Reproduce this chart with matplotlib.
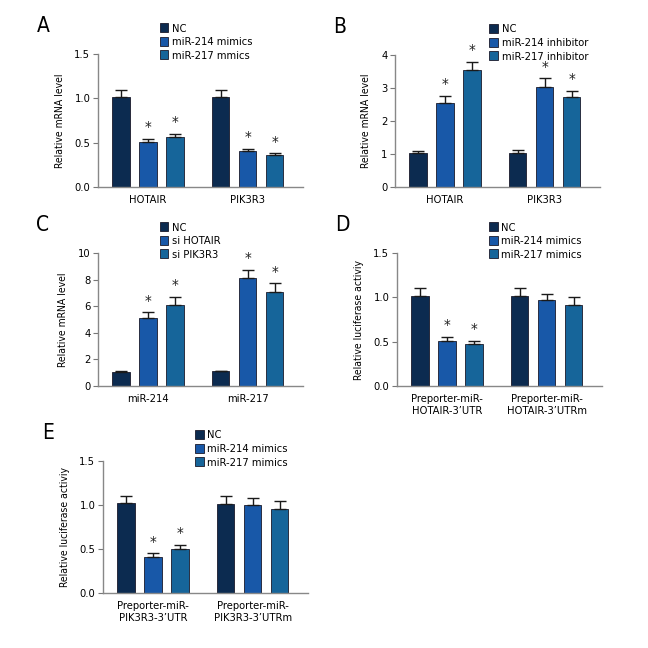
import numpy as np
import matplotlib
matplotlib.use("Agg")
import matplotlib.pyplot as plt
from matplotlib.patches import Patch

plt.rcParams['font.family'] = ['DejaVu Sans']
plt.rcParams['font.stretch'] = 'condensed'

colors = ['#0c2b50', '#1858a8', '#16659a']

# panel A
a_groups = ['HOTAIR', 'PIK3R3']
a_series = ['NC', 'miR-214 mimics', 'miR-217 mmics']
a_vals = [[1.01, 0.51, 0.56], [1.01, 0.41, 0.36]]
a_err = [[0.08, 0.03, 0.04], [0.08, 0.02, 0.02]]
a_star = [[False, True, True], [False, True, True]]
a_ticks = [0.0, 0.5, 1.0, 1.5]

# panel B
b_groups = ['HOTAIR', 'PIK3R3']
b_series = ['NC', 'miR-214 inhibitor', 'miR-217 inhibitor']
b_vals = [[1.03, 2.54, 3.55], [1.03, 3.02, 2.72]]
b_err = [[0.07, 0.23, 0.23], [0.08, 0.27, 0.19]]
b_star = [[False, True, True], [False, True, True]]
b_ticks = [0, 1, 2, 3, 4]

# panel C
c_groups = ['miR-214', 'miR-217']
c_series = ['NC', 'si HOTAIR', 'si PIK3R3']
c_vals = [[1.06, 5.09, 6.10], [1.11, 8.11, 7.08]]
c_err = [[0.07, 0.45, 0.60], [0.05, 0.60, 0.63]]
c_star = [[False, True, True], [False, True, True]]
c_ticks = [0, 2, 4, 6, 8, 10]

# panel D
d_groups = ['Preporter-miR-\nHOTAIR-3\u2019UTR', 'Preporter-miR-\nHOTAIR-3\u2019UTRm']
d_series = ['NC', 'miR-214 mimics', 'miR-217 mimics']
d_vals = [[1.01, 0.51, 0.47], [1.01, 0.97, 0.91]]
d_err = [[0.09, 0.04, 0.04], [0.09, 0.07, 0.09]]
d_star = [[False, True, True], [False, False, False]]
d_ticks = [0.0, 0.5, 1.0, 1.5]

# panel E
e_groups = ['Preporter-miR-\nPIK3R3-3\u2019UTR', 'Preporter-miR-\nPIK3R3-3\u2019UTRm']
e_series = ['NC', 'miR-214 mimics', 'miR-217 mimics']
e_vals = [[1.02, 0.41, 0.50], [1.01, 1.00, 0.96]]
e_err = [[0.08, 0.04, 0.05], [0.09, 0.08, 0.09]]
e_star = [[False, True, True], [False, False, False]]
e_ticks = [0.0, 0.5, 1.0, 1.5]

W, H = 648, 648
fig = plt.figure(figsize=(6.48, 6.48), dpi=100)


def panel(letter, rect, groups, series, vals, err, star, ticks, fmt, ylabel, leg_x):
    left, top, right, bottom = rect
    ax = fig.add_axes([left / W, 1 - bottom / H, (right - left) / W, (bottom - top) / H])
    gap = 3.7
    for g in range(len(groups)):
        for s in range(len(series)):
            x = g * gap + s
            ax.bar(x, vals[g][s], width=0.64, color=colors[s], edgecolor='#1a1a2a',
                   linewidth=0.6, zorder=2)
            ax.errorbar(x, vals[g][s], yerr=[[0], [err[g][s]]], color='#1a1a1a',
                        lw=1.0, capsize=4, capthick=1.0, zorder=3)
            if star[g][s]:
                ax.annotate('*', (x, vals[g][s] + err[g][s]), xytext=(0, 2),
                            textcoords='offset points', ha='center', va='bottom',
                            fontsize=11, color='#222222')
    ax.set_xlim(-0.85, 6.75)
    ax.set_ylim(ticks[0], ticks[-1])
    ax.set_yticks(ticks)
    ax.set_yticklabels([fmt.format(t) for t in ticks], fontsize=8)
    ax.set_xticks([g * gap + 1 for g in range(len(groups))])
    ax.set_xticklabels(groups, fontsize=8, linespacing=1.15)
    ax.tick_params(axis='x', length=0, pad=6)
    ax.tick_params(axis='y', length=3.5, width=0.8, color='#777777', pad=2)
    for sp in ['top', 'right']:
        ax.spines[sp].set_visible(False)
    for sp in ['left', 'bottom']:
        ax.spines[sp].set_color('#888888')
        ax.spines[sp].set_linewidth(1.0)
    ax.set_ylabel(ylabel, fontsize=7.5, labelpad=7)
    handles = [Patch(facecolor=colors[s], edgecolor='#1a1a2a', linewidth=0.6)
               for s in range(len(series))]
    ax.legend(handles, series, loc='lower left', bbox_to_anchor=(leg_x, 0.95),
              frameon=False, fontsize=8, handlelength=0.75, handleheight=0.9,
              handletextpad=0.35, labelspacing=0.28, borderpad=0, borderaxespad=0)
    fig.text((left - 55) / W, 1 - (top - 28) / H, letter, fontsize=15,
             ha='center', va='center')
    return ax


panel('A', (98, 54, 303, 187), a_groups, a_series, a_vals, a_err, a_star, a_ticks,
      '{:.1f}', 'Relative mRNA level', 0.30)
panel('B', (395, 55, 600, 187), b_groups, b_series, b_vals, b_err, b_star, b_ticks,
      '{:d}', 'Relative mRNA level', 0.46)
panel('C', (98, 253, 303, 386), c_groups, c_series, c_vals, c_err, c_star, c_ticks,
      '{:d}', 'Relative mRNA level', 0.30)
panel('D', (397, 253, 602, 386), d_groups, d_series, d_vals, d_err, d_star, d_ticks,
      '{:.1f}', 'Relative luciferase activiy', 0.45)
panel('E', (103, 461, 308, 593), e_groups, e_series, e_vals, e_err, e_star, e_ticks,
      '{:.1f}', 'Relative luciferase activiy', 0.45)

plt.savefig('out.png', dpi=100)
